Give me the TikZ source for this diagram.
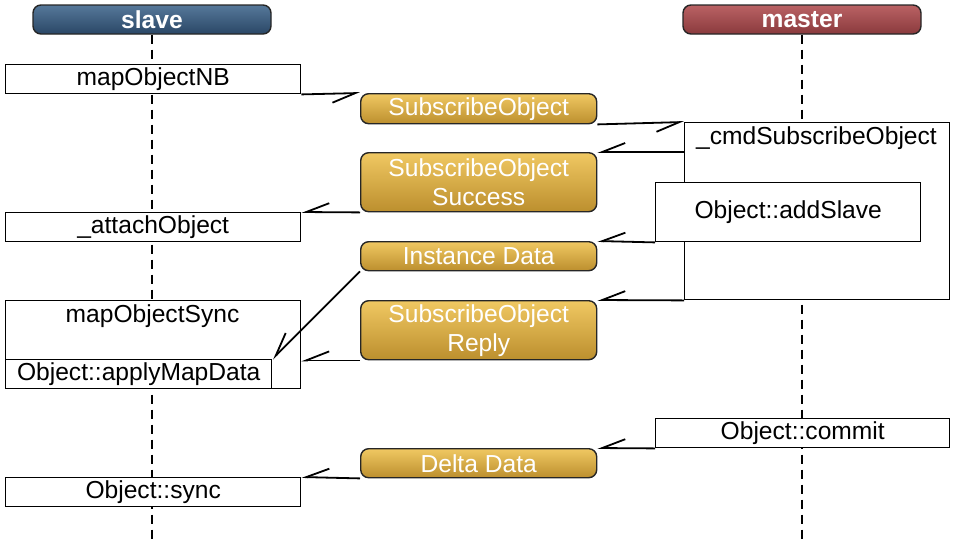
\documentclass[tikz,border=0pt]{standalone}
\usepackage{fontspec}
\setmainfont{Liberation Sans}
\usetikzlibrary{arrows.meta}
\definecolor{azulA}{HTML}{56789A}
\definecolor{azulB}{HTML}{2A4766}
\definecolor{vermA}{HTML}{BA6264}
\definecolor{vermB}{HTML}{8A3A3D}
\definecolor{ouroA}{HTML}{F0C862}
\definecolor{ouroM}{HTML}{C69B36}
\definecolor{ouroB}{HTML}{BC8F2E}
\begin{document}
\begin{tikzpicture}[x=1pt,y=-1pt]
\tikzstyle{caixa}=[draw=black, fill=white, line width=1.4pt, inner sep=0, anchor=north west, font=\fontsize{24.6}{29}\selectfont]
\tikzstyle{texto}=[inner sep=0, font=\fontsize{24.6}{29}\selectfont]
\tikzstyle{msg}=[draw=black!85, line width=1.4pt, rounded corners=8pt, top color=ouroA, middle color=ouroM, bottom color=ouroB, text=white, inner sep=0, anchor=north west, minimum width=236, align=center, font=\fontsize{24.6}{29}\selectfont]
\tikzstyle{cabeca}=[draw=black!85, line width=1.4pt, rounded corners=8pt, text=white, minimum width=238, minimum height=29, inner sep=0, font=\fontsize{24.6}{29}\selectfont\bfseries]
\tikzstyle{vida}=[dash pattern=on 9pt off 6pt, line width=1.6pt]
\tikzstyle{seta}=[line width=1.8pt, -{Straight Barb[right, length=23pt, width=18pt]}]
\useasboundingbox (0,0) rectangle (955,542);
% cabecalhos e linhas de vida
\node[cabeca, top color=azulA, bottom color=azulB] (slave) at (152,19.5) {slave};
\node[cabeca, top color=vermA, bottom color=vermB] (master) at (802,19.5) {master};
\coordinate (fimS) at (152,542);
\coordinate (fimM) at (802,542);
\draw[vida] (slave) -- (fimS);
\draw[vida] (master) -- (fimM);
% lado slave
\node[caixa, minimum width=295, minimum height=29] (nb) at (5,64) {mapObjectNB};
\node[caixa, minimum width=295, minimum height=29] (attach) at (5,212) {\_attachObject};
\node[caixa, minimum width=295, minimum height=88] (sync) at (5,300) {};
\node[texto] (syncTxt) at (152.5,316) {mapObjectSync};
\node[caixa, minimum width=266, minimum height=29] (apply) at (5,359) {Object::applyMapData};
\node[caixa, minimum width=295, minimum height=29] (osync) at (5,477) {Object::sync};
% lado master
\node[caixa, minimum width=265, minimum height=177] (cmd) at (684,122) {};
\node[texto] (cmdTxt) at (816.5,138) {\_cmdSubscribeObject};
\node[caixa, minimum width=265, minimum height=59] (addSlave) at (655,182) {Object::addSlave};
\node[caixa, minimum width=294, minimum height=29] (commit) at (655,418) {Object::commit};
% mensagens
\node[msg, minimum height=30] (subs) at (360,93) {SubscribeObject};
\node[msg, minimum height=59] (subsOk) at (360,152) {SubscribeObject\\Success};
\node[msg, minimum height=29] (inst) at (360,241) {Instance Data};
\node[msg, minimum height=59] (reply) at (360,300) {SubscribeObject\\Reply};
\node[msg, minimum height=29] (delta) at (360,448) {Delta Data};
% setas
\draw[seta] (nb.south east) -- (subs.north west);
\draw[seta] (subs.south east) -- (cmd.north west);
\draw[seta] (cmd.west |- subsOk.north east) -- (subsOk.north east);
\draw[seta] (subsOk.south west) -- (attach.north east);
\draw[seta] (addSlave.south west) -- (inst.north east);
\draw[seta] (inst.south west) -- (apply.north east);
\draw[seta] (cmd.south west) -- (reply.north east);
\draw[seta] (reply.south west) -- (sync.east |- reply.south west);
\draw[seta] (commit.south west) -- (delta.north east);
\draw[seta] (delta.south west) -- (osync.north east);
\end{tikzpicture}
\end{document}
